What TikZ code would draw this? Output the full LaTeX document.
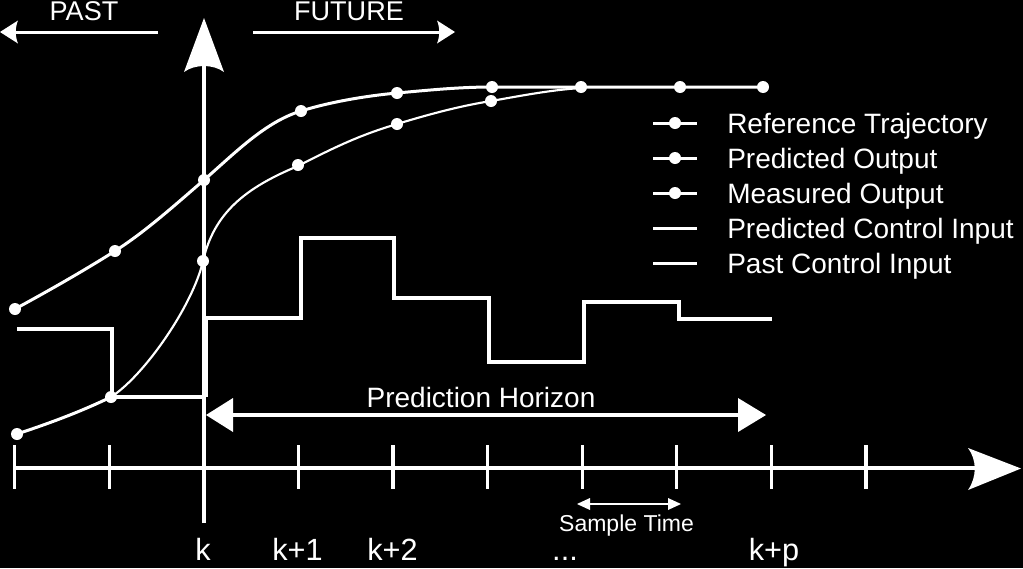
\documentclass[tikz,border=0pt]{standalone}
\usepackage{fontspec}
\setmainfont{Liberation Sans}
\begin{document}
\begin{tikzpicture}[x=0.75pt,y=-0.75pt,
  axisline/.style={draw=white,line width=3pt},
  tickline/.style={draw=white,line width=2.4pt},
  thinarrow/.style={draw=white,line width=2.25pt},
  curveline/.style={draw=white,line width=2.25pt},
  thincurve/.style={draw=white,line width=1.6pt},
  stepline/.style={draw=white,line width=3pt,line join=miter},
  headfill/.style={fill=white},
  dotfill/.style={fill=white},
  lbl/.style={text=white,inner sep=0pt,anchor=base,font=\fontsize{21}{25}\selectfont},
  toplbl/.style={text=white,inner sep=0pt,anchor=base,font=\fontsize{20.3}{24}\selectfont},
  ticklbl/.style={text=white,inner sep=0pt,anchor=base,font=\fontsize{23}{27}\selectfont},
  smalllbl/.style={text=white,inner sep=0pt,anchor=base,font=\fontsize{17.25}{20}\selectfont},
  leglbl/.style={text=white,inner sep=0pt,anchor=base west,font=\fontsize{21}{25}\selectfont}
]
\fill[black] (0,0) rectangle (1023,568);
\useasboundingbox (0,0) rectangle (1023,568);

% PAST / FUTURE
\node[toplbl] (past) at (84,20) {PAST};
\node[toplbl] (future) at (349,20) {FUTURE};
\coordinate (pastR) at (158,32);
\coordinate (pastL) at (14,32);
\draw[thinarrow] (pastR) -- (pastL);
\fill[headfill] (0,32) -- (18,20.5) .. controls (15,28) and (15,36) .. (18,43.5) -- cycle;
\coordinate (futL) at (253,32);
\coordinate (futR) at (441,32);
\draw[thinarrow] (futL) -- (futR);
\fill[headfill] (455,32) -- (437,20.5) .. controls (440,28) and (440,36) .. (437,43.5) -- cycle;

% time axis
\coordinate (axL) at (15,468);
\coordinate (axR) at (975,468);
\draw[axisline] (axL) -- (axR);
\fill[headfill] (1021,468.5) -- (968,448) .. controls (977,460) and (977,477) .. (968,490) -- cycle;
\foreach \i in {0,...,9} {
  \draw[tickline] ({14.5+94.6*\i},445) -- ({14.5+94.6*\i},489);
}

% vertical axis
\coordinate (vB) at (204,523);
\coordinate (vT) at (204,64);
\draw[axisline] (vB) -- (vT);
\fill[headfill] (204,18) -- (184,72) .. controls (195,64) and (213,64) .. (224,72) -- cycle;

% past control input
\draw[stepline] (17,329) -- (112,329) -- (112,397) -- (204,397);
% predicted control input
\draw[stepline] (206,397) -- (206,318) -- (301,318) -- (301,238) -- (394,238) -- (394,298)
  -- (489,298) -- (489,362) -- (584,362) -- (584,302) -- (679,302) -- (679,319) -- (772,319);

% upper curve
\draw[curveline] (15,309) .. controls (50,290) and (85,270) .. (115,251)
  .. controls (145,232) and (175,205) .. (204,180)
  .. controls (235,153) and (265,122) .. (301,111)
  .. controls (330,102) and (365,96) .. (397,93)
  .. controls (430,90) and (460,87) .. (492,87) -- (763,87);
% lower curve
\draw[curveline] (17,434) .. controls (50,423) and (80,412) .. (111,397);
\draw[thincurve] (111,397) .. controls (145,375) and (193,305) .. (203,261)
  .. controls (214,213) and (245,188) .. (298,166)
  .. controls (335,147) and (360,135) .. (397,124)
  .. controls (430,114) and (460,106) .. (491,101)
  .. controls (520,96) and (550,90) .. (581,88);

% dots
\foreach \p in {(15,309),(115,251),(204,180),(301,111),(397,93),(492,87),(581,87),(680,87),(763,87),
  (17,434),(111,397),(203,261),(298,165),(397,124),(491,101)} {
  \fill[dotfill] \p circle (6);
}

% legend
\foreach \yy/\txt/\hasdot [count=\n] in {123/Reference Trajectory/1,158/Predicted Output/1,193/Measured Output/1,228/Predicted Control Input/0,263/Past Control Input/0} {
  \draw[curveline] (653,\yy) -- (697,\yy);
  \ifnum\hasdot=1 \fill[dotfill] (675,\yy) circle (6); \fi
  \node[leglbl] (leg\n) at (727,\yy+10) {\txt};
}

% prediction horizon
\node[lbl] (ph) at (481,407) {Prediction Horizon};
\coordinate (phL) at (225,415);
\coordinate (phR) at (745,415);
\draw[axisline] (phL) -- (phR);
\fill[headfill] (206,415) -- (233,398) -- (233,432) -- cycle;
\fill[headfill] (766,415) -- (738,398) -- (738,432) -- cycle;

% sample time
\coordinate (stL) at (585,504);
\coordinate (stR) at (673,504);
\draw[draw=white,line width=1.5pt] (stL) -- (stR);
\fill[headfill] (577,504) -- (590,498) -- (590,510) -- cycle;
\fill[headfill] (681,504) -- (668,498) -- (668,510) -- cycle;
\node[smalllbl] (st) at (626.5,531.5) {Sample Time};

% tick labels
\node[ticklbl] (tk) at (203,560) {k};
\node[ticklbl] (tk1) at (297.5,560) {k+1};
\node[ticklbl] (tk2) at (392.5,560) {k+2};
\node[ticklbl] (tdots) at (565,560) {...};
\node[ticklbl] (tkp) at (774,560) {k+p};
\end{tikzpicture}
\end{document}
